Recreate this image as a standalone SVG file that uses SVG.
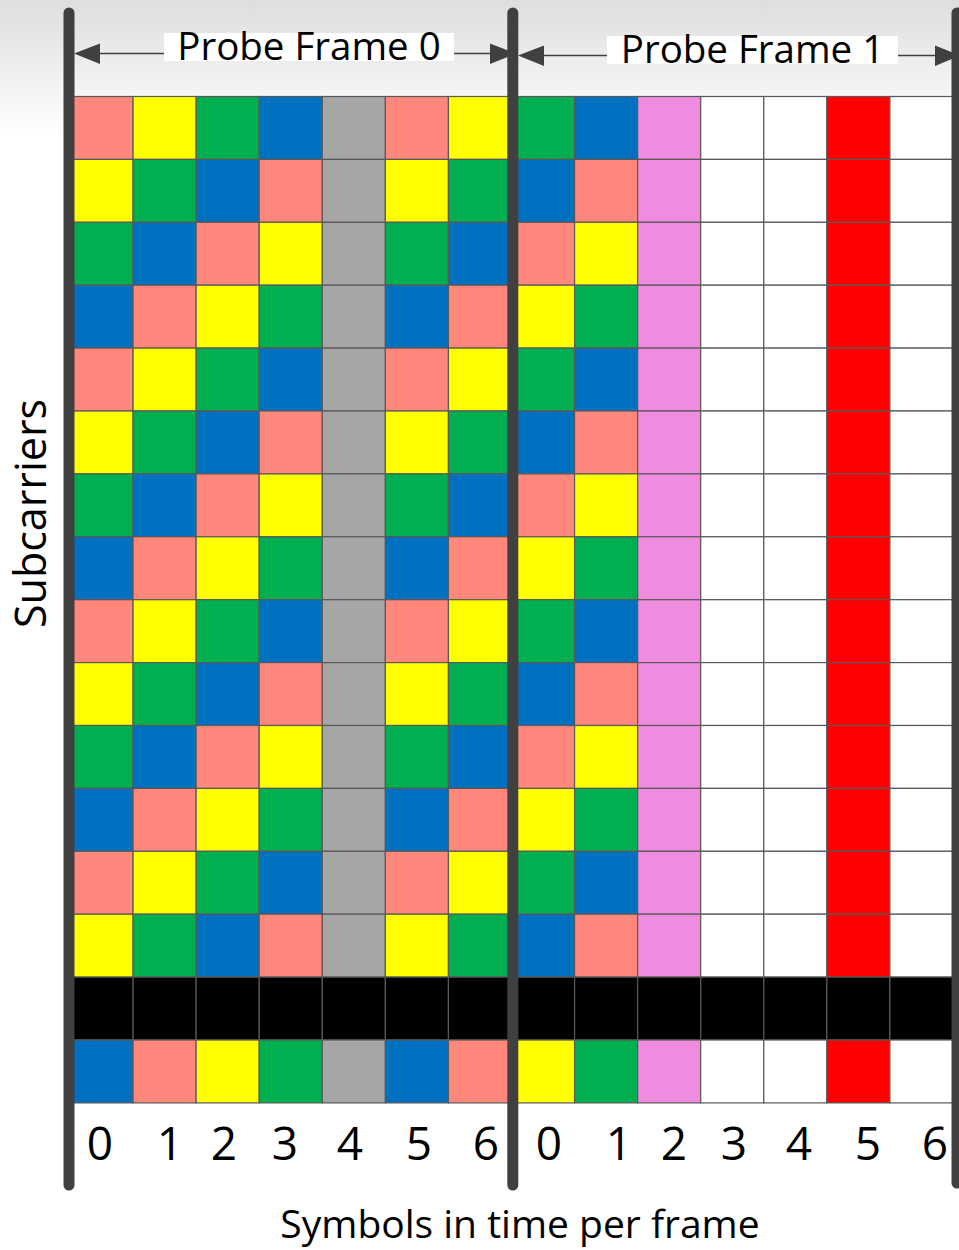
<svg xmlns="http://www.w3.org/2000/svg" xmlns:xlink="http://www.w3.org/1999/xlink" width="959" height="1250" viewBox="0 0 959 1250">
<style>
.c{stroke:#595959;stroke-width:1.2}
.s{fill:#FF877C}.y{fill:#FFFF00}.g{fill:#00B050}.b{fill:#0070C0}.k{fill:#A6A6A6}
.p{fill:#F08CE0}.w{fill:#FFFFFF}.r{fill:#FF0000}.n{fill:#000000}
.bar{stroke:#404040;stroke-width:11;stroke-linecap:round;fill:none}
.ln{stroke:#404040;stroke-width:1.3}
.ah{fill:#404040}
text{font-family:"Open Sans","Noto Sans","Liberation Sans",sans-serif;fill:#000}
.lbl{font-size:38.5px}
.dig{font-size:46px;text-anchor:middle}
</style>
<defs>
<linearGradient id="bg" x1="0" y1="0" x2="0" y2="1">
<stop offset="0" stop-color="#dedede"/>
<stop offset="1" stop-color="#ffffff"/>
</linearGradient>
<rect id="S" class="c s" width="63.07" height="62.9"/>
<rect id="Y" class="c y" width="63.07" height="62.9"/>
<rect id="G" class="c g" width="63.07" height="62.9"/>
<rect id="B" class="c b" width="63.07" height="62.9"/>
<rect id="K" class="c k" width="63.07" height="62.9"/>
<rect id="P" class="c p" width="63.07" height="62.9"/>
<rect id="W" class="c w" width="63.07" height="62.9"/>
<rect id="R" class="c r" width="63.07" height="62.9"/>
<rect id="N" class="c n" width="63.07" height="62.9"/>
<g id="row0">
<use href="#S" x="70"/><use href="#Y" x="133.07"/><use href="#G" x="196.14"/><use href="#B" x="259.21"/><use href="#K" x="322.29"/><use href="#S" x="385.36"/><use href="#Y" x="448.43"/>
<use href="#G" x="511.5"/><use href="#B" x="574.57"/><use href="#P" x="637.64"/><use href="#W" x="700.71"/><use href="#W" x="763.79"/><use href="#R" x="826.86"/><use href="#W" x="889.93"/>
</g>
<g id="row1">
<use href="#Y" x="70"/><use href="#G" x="133.07"/><use href="#B" x="196.14"/><use href="#S" x="259.21"/><use href="#K" x="322.29"/><use href="#Y" x="385.36"/><use href="#G" x="448.43"/>
<use href="#B" x="511.5"/><use href="#S" x="574.57"/><use href="#P" x="637.64"/><use href="#W" x="700.71"/><use href="#W" x="763.79"/><use href="#R" x="826.86"/><use href="#W" x="889.93"/>
</g>
<g id="row2">
<use href="#G" x="70"/><use href="#B" x="133.07"/><use href="#S" x="196.14"/><use href="#Y" x="259.21"/><use href="#K" x="322.29"/><use href="#G" x="385.36"/><use href="#B" x="448.43"/>
<use href="#S" x="511.5"/><use href="#Y" x="574.57"/><use href="#P" x="637.64"/><use href="#W" x="700.71"/><use href="#W" x="763.79"/><use href="#R" x="826.86"/><use href="#W" x="889.93"/>
</g>
<g id="row3">
<use href="#B" x="70"/><use href="#S" x="133.07"/><use href="#Y" x="196.14"/><use href="#G" x="259.21"/><use href="#K" x="322.29"/><use href="#B" x="385.36"/><use href="#S" x="448.43"/>
<use href="#Y" x="511.5"/><use href="#G" x="574.57"/><use href="#P" x="637.64"/><use href="#W" x="700.71"/><use href="#W" x="763.79"/><use href="#R" x="826.86"/><use href="#W" x="889.93"/>
</g>
<g id="rowN">
<use href="#N" x="70"/><use href="#N" x="133.07"/><use href="#N" x="196.14"/><use href="#N" x="259.21"/><use href="#N" x="322.29"/><use href="#N" x="385.36"/><use href="#N" x="448.43"/>
<use href="#N" x="511.5"/><use href="#N" x="574.57"/><use href="#N" x="637.64"/><use href="#N" x="700.71"/><use href="#N" x="763.79"/><use href="#N" x="826.86"/><use href="#N" x="889.93"/>
</g>
</defs>
<rect x="0" y="0" width="959" height="1250" fill="#ffffff"/>
<rect x="0" y="0" width="959" height="135" fill="url(#bg)"/>

<g id="grid">
<use href="#row0" y="96.5"/>
<use href="#row1" y="159.4"/>
<use href="#row2" y="222.3"/>
<use href="#row3" y="285.2"/>
<use href="#row0" y="348.1"/>
<use href="#row1" y="411"/>
<use href="#row2" y="473.9"/>
<use href="#row3" y="536.8"/>
<use href="#row0" y="599.7"/>
<use href="#row1" y="662.6"/>
<use href="#row2" y="725.5"/>
<use href="#row3" y="788.4"/>
<use href="#row0" y="851.3"/>
<use href="#row1" y="914.2"/>
<use href="#rowN" y="977.1"/>
<use href="#row3" y="1040"/>
</g>

<g id="bars">
<line class="bar" x1="69" y1="13" x2="69" y2="1185"/>
<line class="bar" x1="512.8" y1="13" x2="512.8" y2="1185"/>
<line class="bar" x1="957" y1="13" x2="957" y2="1183"/>
</g>

<g id="connectors">
<line class="ln" x1="100" y1="53.5" x2="164" y2="53.5"/>
<line class="ln" x1="454" y1="53.5" x2="490" y2="53.5"/>
<polygon class="ah" points="74,53.5 100,43.5 100,64"/>
<polygon class="ah" points="516,53.5 490,43.5 490,64"/>
<line class="ln" x1="544" y1="55.5" x2="608" y2="55.5"/>
<line class="ln" x1="898" y1="55.5" x2="935" y2="55.5"/>
<polygon class="ah" points="518,55.5 544,45.5 544,66"/>
<polygon class="ah" points="960,55.5 935,45.5 935,66"/>
</g>

<g id="frame0-label">
<rect x="164" y="33" width="290" height="28" fill="#ffffff"/>
<text class="lbl" x="309" y="60" text-anchor="middle">Probe Frame 0</text>
</g>
<g id="frame1-label">
<rect x="607" y="36" width="291" height="28" fill="#ffffff"/>
<text class="lbl" x="752.5" y="63" text-anchor="middle">Probe Frame 1</text>
</g>

<g id="symbol-indices">
<text class="dig" x="100" y="1160">0</text>
<text class="dig" x="170" y="1160">1</text>
<text class="dig" x="224" y="1160">2</text>
<text class="dig" x="285" y="1160">3</text>
<text class="dig" x="350" y="1160">4</text>
<text class="dig" x="419" y="1160">5</text>
<text class="dig" x="486" y="1160">6</text>
<text class="dig" x="549" y="1160">0</text>
<text class="dig" x="619" y="1160">1</text>
<text class="dig" x="674" y="1160">2</text>
<text class="dig" x="734" y="1160">3</text>
<text class="dig" x="799" y="1160">4</text>
<text class="dig" x="868" y="1160">5</text>
<text class="dig" x="935" y="1160">6</text>
</g>

<g id="axis-labels">
<text x="520" y="1238" font-size="39" text-anchor="middle">Symbols in time per frame</text>
<text transform="translate(46,513.5) rotate(-90)" font-size="43" text-anchor="middle">Subcarriers</text>
</g>
</svg>
